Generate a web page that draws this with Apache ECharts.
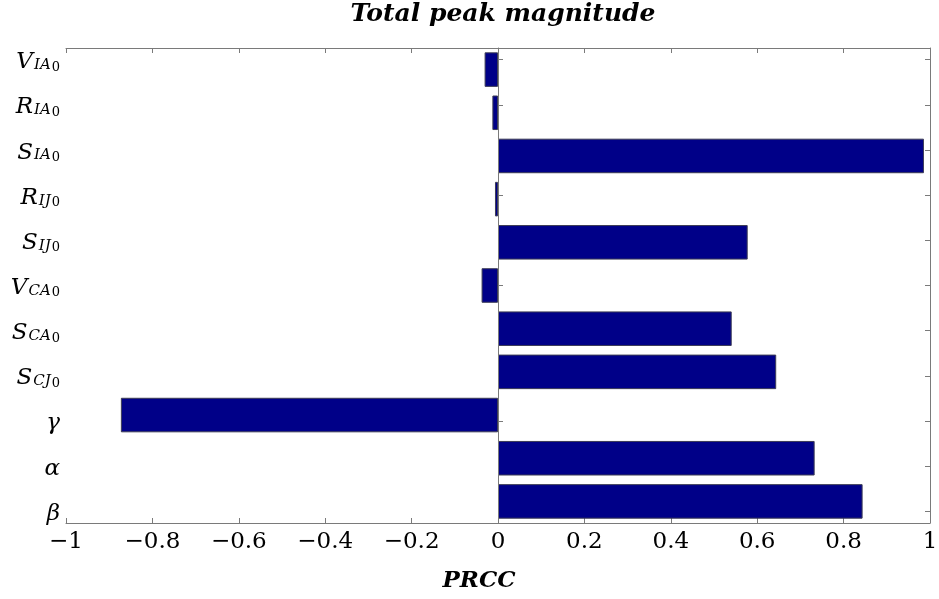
<!DOCTYPE html>
<html>
<head>
<meta charset="utf-8">
<script src="https://cdn.jsdelivr.net/npm/echarts@6/dist/echarts.min.js"></script>
<style>
  html, body { margin: 0; padding: 0; background: #fff; }
  #chart { width: 939px; height: 599px; }
</style>
</head>
<body>
<div id="chart"></div>
<script>
// Parameters, listed bottom to top as they appear on the vertical axis
const symbols    = ['β', 'α', 'γ', 'S', 'S', 'V', 'S', 'R', 'S', 'R', 'V'];
const subscripts = ['', '', '', 'CJ', 'CA', 'CA', 'IJ', 'IJ', 'IA', 'IA', 'IA'];
const categories = ['beta', 'alpha', 'gamma', 'S_CJ0', 'S_CA0', 'V_CA0', 'S_IJ0', 'R_IJ0', 'S_IA0', 'R_IA0', 'V_IA0'];
// Partial rank correlation coefficients
const prcc = [0.844, 0.733, -0.873, 0.644, 0.541, -0.038, 0.578, -0.007, 0.986, -0.013, -0.031];
// Tick positions for the parameter labels (1 = bottom)
const labelTicks = [1, 2, 3, 4, 5, 6, 7, 8, 9, 10, 11];

const serif = 'DejaVu Serif';
const frameColor = '#7a7a7a';

function fmtX(v) {
  const r = Math.round(v * 10) / 10;
  return r < 0 ? '\u2212' + Math.abs(r) : String(r);
}

function fmtParam(v) {
  const i = Math.round(v) - 1;
  const sym = symbols[i];
  const sub = subscripts[i];
  return sub ? '{m|' + sym + '}{s|' + sub + '}{z|0}' : '{m|' + sym + '}';
}

const chart = echarts.init(document.getElementById('chart'), null, { renderer: 'canvas' });

chart.setOption({
  backgroundColor: '#ffffff',
  animation: false,
  title: {
    text: 'Total peak magnitude',
    left: 498,
    top: -3,
    textAlign: 'center',
    textStyle: {
      fontFamily: serif, fontStyle: 'italic', fontWeight: 'bold',
      fontSize: 25, color: '#000'
    }
  },
  grid: { left: 66, right: 9, top: 48, bottom: 76, containLabel: false, outerBoundsMode: 'none' },
  xAxis: [
    {
      type: 'value', position: 'bottom', min: -1, max: 1, interval: 0.2,
      name: 'PRCC', nameLocation: 'middle', nameGap: 47,
      nameTextStyle: {
        fontFamily: serif, fontStyle: 'italic', fontWeight: 'bold',
        fontSize: 23, color: '#000', padding: [0, 38, 0, 0]
      },
      axisLine: { show: true, lineStyle: { color: frameColor, width: 1 } },
      axisTick: { show: true, inside: true, length: 5, lineStyle: { color: frameColor } },
      axisLabel: {
        formatter: fmtX, margin: 8,
        fontFamily: serif, fontSize: 23, color: '#000'
      },
      splitLine: { show: false }
    },
    {
      type: 'value', position: 'top', min: -1, max: 1, interval: 0.2,
      axisLine: { show: true, lineStyle: { color: frameColor, width: 1 } },
      axisTick: { show: true, inside: true, length: 5, lineStyle: { color: frameColor } },
      axisLabel: { show: false },
      splitLine: { show: false }
    }
  ],
  yAxis: [
    {
      type: 'category', data: categories, show: false
    },
    {
      type: 'value', position: 'left', min: 0.74, max: 11.26,
      axisLine: { show: true, lineStyle: { color: frameColor, width: 1 } },
      axisTick: { show: true, inside: true, length: 5, customValues: labelTicks, lineStyle: { color: frameColor } },
      axisLabel: {
        customValues: labelTicks, formatter: fmtParam, margin: 6,
        rich: {
          m: { fontFamily: serif, fontStyle: 'italic', fontSize: 23, color: '#000', verticalAlign: 'bottom', lineHeight: 28 },
          s: { fontFamily: serif, fontStyle: 'italic', fontSize: 15, color: '#000', verticalAlign: 'bottom', lineHeight: 28, padding: [0, 0, 1, 1] },
          z: { fontFamily: serif, fontSize: 13, color: '#000', verticalAlign: 'bottom', lineHeight: 28, padding: [0, 0, 0, 1] }
        }
      },
      splitLine: { show: false }
    },
    {
      type: 'value', position: 'right', min: 0.74, max: 11.26,
      axisLine: { show: true, lineStyle: { color: frameColor, width: 1 } },
      axisTick: { show: true, inside: true, length: 5, customValues: labelTicks, lineStyle: { color: frameColor } },
      axisLabel: { show: false },
      splitLine: { show: false }
    }
  ],
  series: [
    {
      type: 'bar',
      xAxisIndex: 0,
      yAxisIndex: 0,
      data: prcc,
      barWidth: '80%',
      itemStyle: { color: '#000088', borderColor: '#3c3c55', borderWidth: 1 },
      markLine: {
        silent: true,
        symbol: 'none',
        label: { show: false },
        lineStyle: { color: frameColor, type: 'solid', width: 1 },
        data: [{ xAxis: 0 }]
      }
    }
  ]
});
</script>
</body>
</html>
